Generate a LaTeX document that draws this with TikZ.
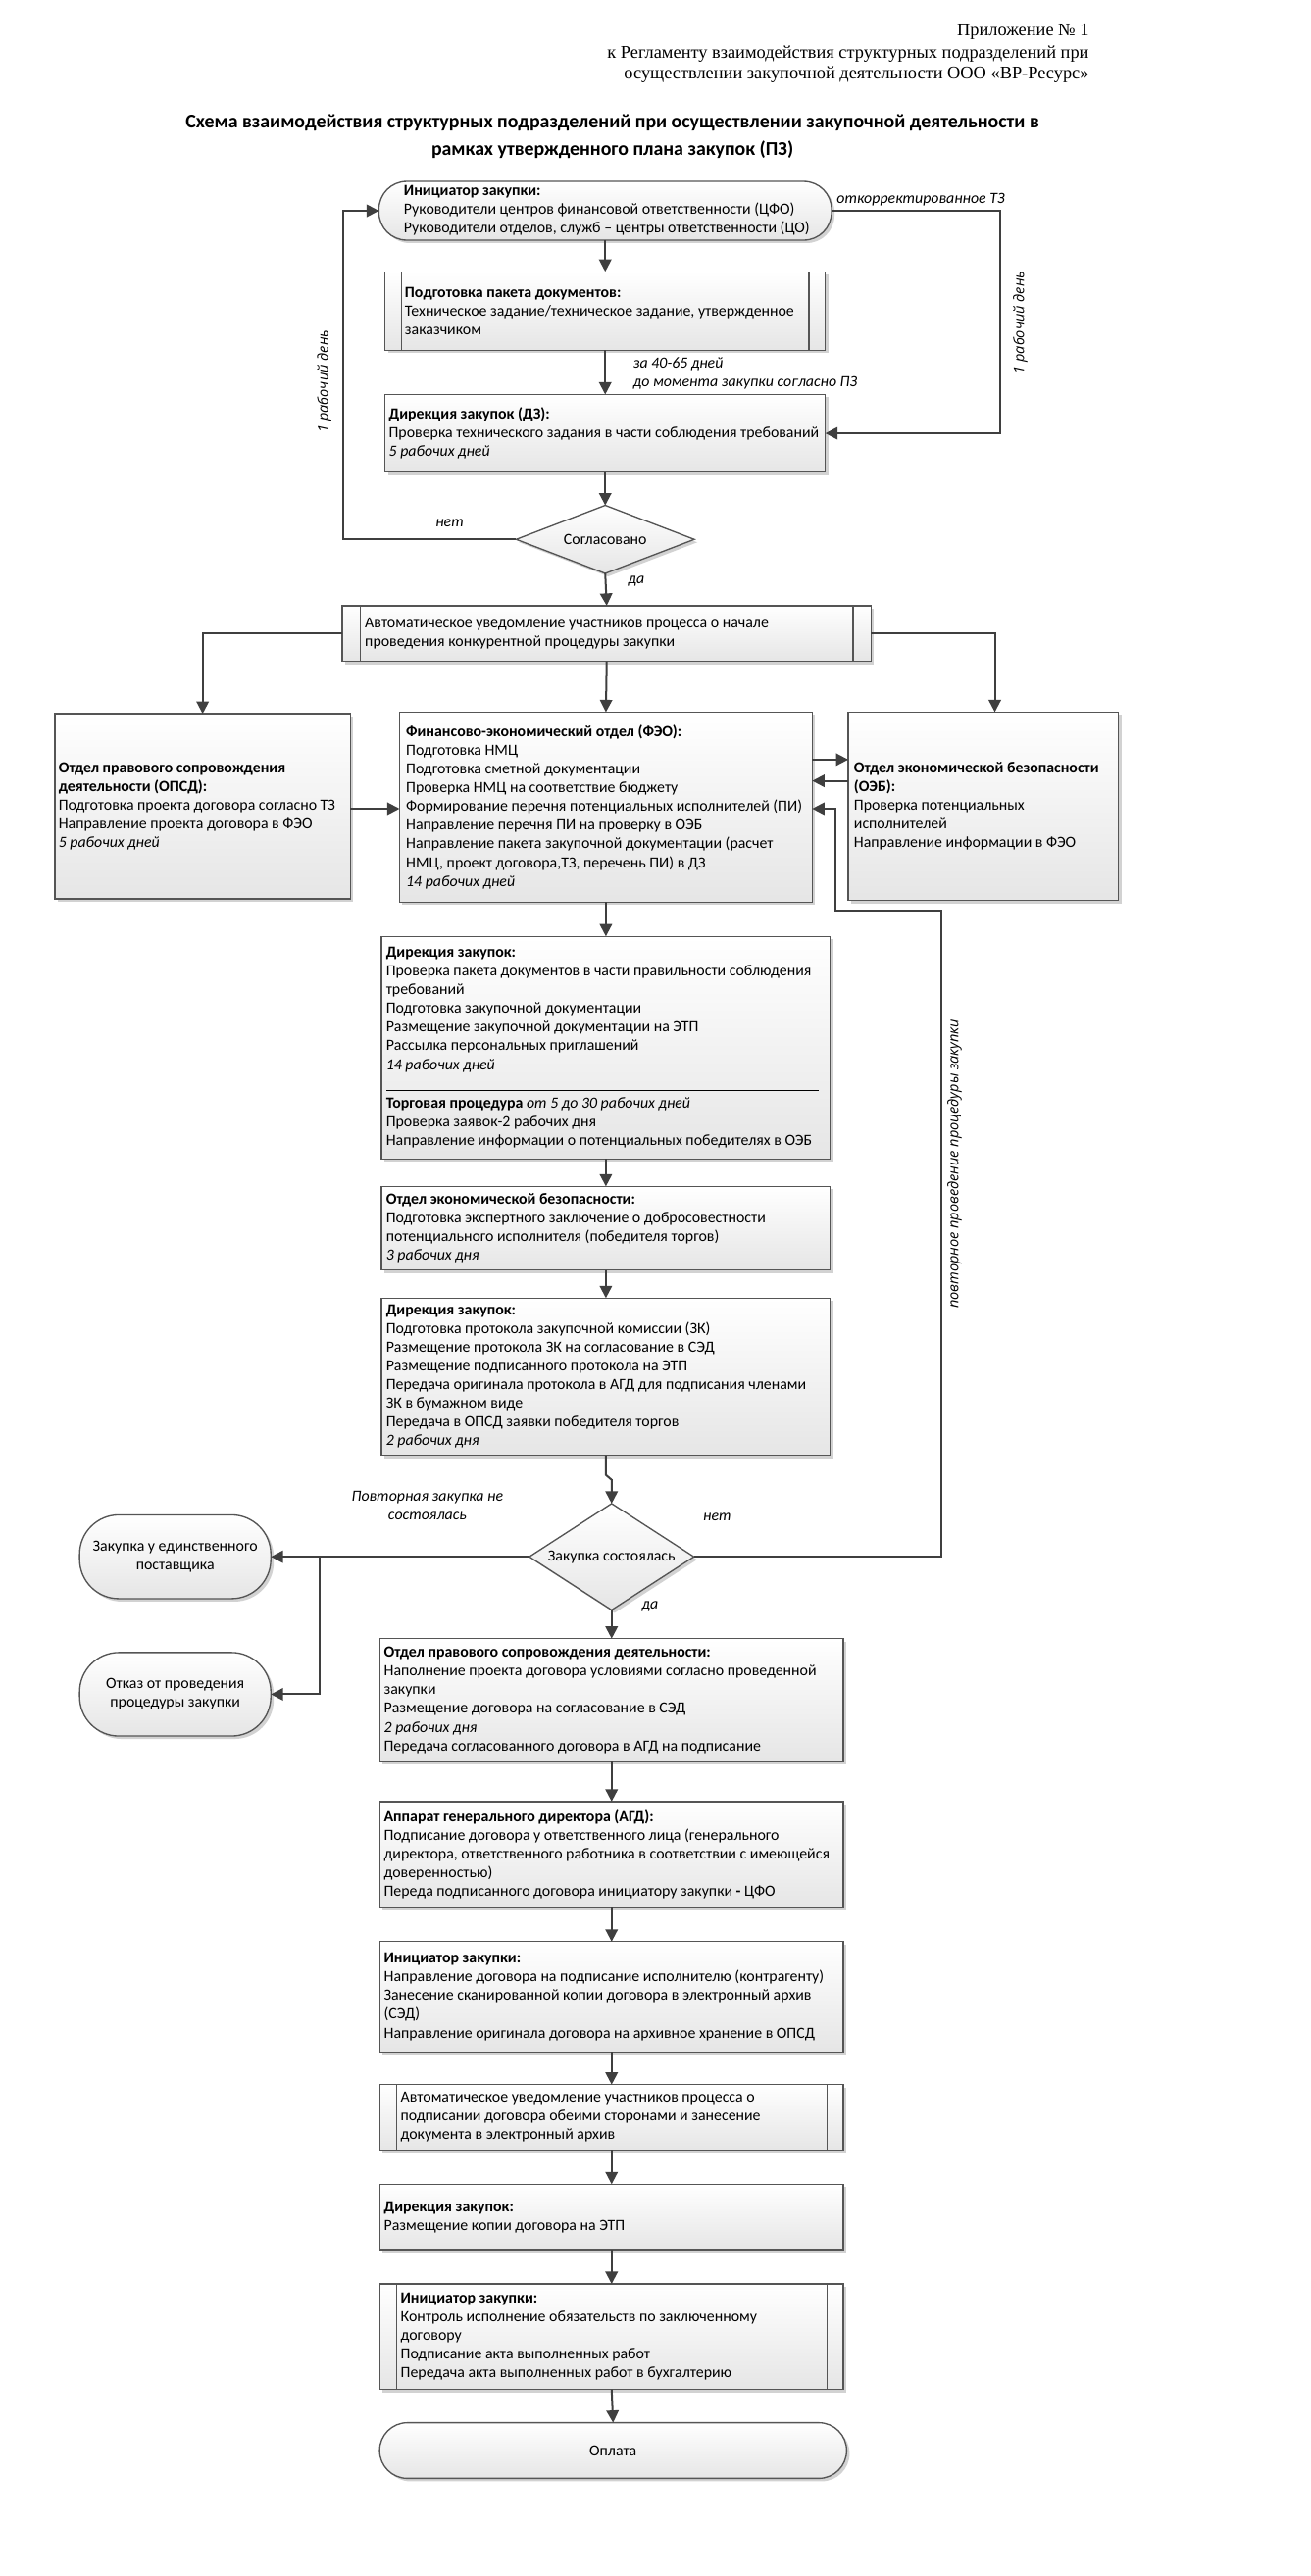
\documentclass[tikz,border=0pt]{standalone}
\usepackage{fontspec}
\setmainfont{Carlito}
\newfontfamily\hdrserif{Liberation Serif}
\newfontfamily\rotsans{Open Sans}
\usetikzlibrary{arrows.meta,shapes.geometric,shadows,calc}

\definecolor{linec}{HTML}{3F3F3F}
\definecolor{boxc}{HTML}{555555}

\newcommand\bodyfont{\fontsize{9.5}{11.4}\selectfont}
\newcommand\labfont{\fontsize{9.5}{11.4}\selectfont\itshape}
\newcommand\rotfont{\rotsans\fontsize{8.7}{10}\selectfont\itshape}
\newcommand\hdrfont{\hdrserif\fontsize{11}{13}\selectfont}
\newcommand\ttlfont{\fontsize{11.9}{14}\selectfont\bfseries}

\newcommand\mypredef[2]{%
  \draw[inl] ([xshift=#2]#1.north west) -- ([xshift=#2]#1.south west);
  \draw[inl] ([xshift=-#2]#1.north east) -- ([xshift=-#2]#1.south east);}

\tikzset{
  every node/.style={inner sep=0pt, outer sep=0pt},
  bx/.style 2 args={rectangle, draw=boxc, line width=0.8pt,
    top color=white, bottom color=black!10,
    drop shadow={shadow xshift=1.8pt, shadow yshift=-1.8pt, fill=black!25, opacity=0.7},
    minimum width=#1, minimum height=#2},
  dia/.style 2 args={diamond, draw=boxc, line width=0.8pt,
    top color=white, bottom color=black!10,
    drop shadow={shadow xshift=1.8pt, shadow yshift=-1.8pt, fill=black!25, opacity=0.7},
    minimum width=#1, minimum height=#2},
  inl/.style={draw=boxc, line width=0.7pt},
  tx/.style={anchor=west, align=left, font=\bodyfont},
  ctx/.style={align=center, font=\bodyfont},
  lab/.style={font=\labfont, align=center},
  arr/.style={draw=linec, line width=1.2pt, -{Triangle[length=7.5pt,width=7.5pt]}},
}

\begin{document}
\begin{tikzpicture}[x=1pt,y=-1pt]
\useasboundingbox (0,0) rectangle (800,1573.65);
\fill[white] (0,0) rectangle (800,1573.65);

% header
\node[anchor=base east, font=\hdrfont] (h1) at (665,22) {Приложение № 1};
\node[anchor=base east, font=\hdrfont] (h2) at (665,35.5) {к Регламенту взаимодействия структурных подразделений при};
\node[anchor=base east, font=\hdrfont] (h3) at (665,48) {осуществлении закупочной деятельности ООО «ВР-Ресурс»};
\node[anchor=base, font=\ttlfont] (t1) at (374,78) {Схема взаимодействия структурных подразделений при осуществлении закупочной деятельности в};
\node[anchor=base, font=\ttlfont] (t2) at (374,95) {рамках утвержденного плана закупок (ПЗ)};

% upper boxes
\node[bx={276.4pt}{35.9pt}, rounded corners=17pt] (init1) at (369.6,128.75) {};
\node[tx] (tinit1) at (246.7,128.75) {\textbf{Инициатор закупки:}\\Руководители центров финансовой ответственности (ЦФО)\\Руководители отделов, служб – центры ответственности (ЦО)};

\node[bx={268.8pt}{48pt}] (prep) at (369.6,190) {};
\mypredef{prep}{10pt}
\node[tx] (tprep) at (247.3,190) {\textbf{Подготовка пакета документов:}\\Техническое задание/техническое задание, утвержденное\\заказчиком};

\node[bx={268.8pt}{47.4pt}] (dz1) at (369.6,264.7) {};
\node[tx] (tdz1) at (237.5,264.7) {\textbf{Дирекция закупок (ДЗ):}\\Проверка технического задания в части соблюдения требований\\\textit{5 рабочих дней}};

\node[dia={108.8pt}{41.6pt}] (agree) at (369.6,329.5) {};
\node[ctx] (tagree) at (369.6,329.5) {Согласовано};

\node[bx={323pt}{34pt}] (auto1) at (370.5,387) {};
\mypredef{auto1}{11pt}
\node[tx] (tauto1) at (222.9,387) {Автоматическое уведомление участников процесса о начале\\проведения конкурентной процедуры закупки};

\node[bx={180.5pt}{113pt}] (opsd) at (123.75,492.5) {};
\node[tx] (topsd) at (35.8,492.5) {\textbf{Отдел правового сопровождения}\\\textbf{деятельности (ОПСД):}\\Подготовка проекта договора согласно ТЗ\\Направление проекта договора в ФЭО\\\textit{5 рабочих дней}};

\node[bx={252pt}{116pt}] (feo) at (370,493) {};
\node[tx] (tfeo) at (248,493) {\textbf{Финансово-экономический отдел (ФЭО):}\\Подготовка НМЦ\\Подготовка сметной документации\\Проверка НМЦ на соответствие бюджету\\Формирование перечня потенциальных исполнителей (ПИ)\\Направление перечня ПИ на проверку в ОЭБ\\Направление пакета закупочной документации (расчет\\НМЦ, проект договора,ТЗ, перечень ПИ) в ДЗ\\\textit{14 рабочих дней}};

\node[bx={165pt}{115pt}] (oeb) at (600.5,492.5) {};
\node[tx] (toeb) at (521.5,492.5) {\textbf{Отдел экономической безопасности}\\\textbf{(ОЭБ):}\\Проверка потенциальных\\исполнителей\\Направление информации в ФЭО};

% middle boxes
\node[bx={274pt}{136pt}] (dz2) at (370,640) {};
\node[tx] (tdz2a) at (235.8,616.8) {\textbf{Дирекция закупок:}\\Проверка пакета документов в части правильности соблюдения\\требований\\Подготовка закупочной документации\\Размещение закупочной документации на ЭТП\\Рассылка персональных приглашений\\\textit{14 рабочих дней}};
\draw[draw=black, line width=0.7pt] (236,666) -- (500,666);
\node[tx] (tdz2b) at (235.8,685.9) {\textbf{Торговая процедура} \textit{от 5 до 30 рабочих дней}\\Проверка заявок-2 рабочих дня\\Направление информации о потенциальных победителях в ОЭБ};

\node[bx={274pt}{51pt}] (oeb2) at (370,750.25) {};
\node[tx] (toeb2) at (235.8,750.25) {\textbf{Отдел экономической безопасности:}\\Подготовка экспертного заключение о добросовестности\\потенциального исполнителя (победителя торгов)\\\textit{3 рабочих дня}};

\node[bx={274pt}{96pt}] (dz3) at (370,841) {};
\node[tx] (tdz3) at (235.8,841) {\textbf{Дирекция закупок:}\\Подготовка протокола закупочной комиссии (ЗК)\\Размещение протокола ЗК на согласование в СЭД\\Размещение подписанного протокола на ЭТП\\Передача оригинала протокола в АГД для подписания членами\\ЗК в бумажном виде\\Передача в ОПСД заявки победителя торгов\\\textit{2 рабочих дня}};

\node[dia={100.5pt}{65pt}] (dia2) at (373.5,951) {};
\node[ctx] (tdia2) at (373.5,951) {Закупка состоялась};

\node[bx={116.8pt}{51.2pt}, rounded corners=24pt] (st1) at (107,951) {};
\node[ctx] (tst1) at (107,951) {Закупка у единственного\\поставщика};
\node[bx={116.8pt}{51pt}, rounded corners=24pt] (st2) at (107,1035) {};
\node[ctx] (tst2) at (107,1035) {Отказ от проведения\\процедуры закупки};

% lower boxes
\node[bx={283pt}{75.3pt}] (opsd2) at (373.5,1038.65) {};
\node[tx] (topsd2) at (234.5,1038.65) {\textbf{Отдел правового сопровождения деятельности:}\\Наполнение проекта договора условиями согласно проведенной\\закупки\\Размещение договора на согласование в СЭД\\\textit{2 рабочих дня}\\Передача согласованного договора в АГД на подписание};

\node[bx={283pt}{64.7pt}] (agd) at (373.5,1132.85) {};
\node[tx] (tagd) at (234.5,1132.85) {\textbf{Аппарат генерального директора (АГД):}\\Подписание договора у ответственного лица (генерального\\директора, ответственного работника в соответствии с имеющейся\\доверенностью)\\Переда подписанного договора инициатору закупки \textbf{-} ЦФО};

\node[bx={283pt}{67.4pt}] (init2) at (373.5,1219.8) {};
\node[tx] (tinit2) at (234.5,1219.8) {\textbf{Инициатор закупки:}\\Направление договора на подписание исполнителю (контрагенту)\\Занесение сканированной копии договора в электронный архив\\(СЭД)\\Направление оригинала договора на архивное хранение в ОПСД};

\node[bx={283pt}{40pt}] (auto2) at (373.5,1293.45) {};
\mypredef{auto2}{10pt}
\node[tx] (tauto2) at (244.7,1293.45) {Автоматическое уведомление участников процесса о\\подписании договора обеими сторонами и занесение\\документа в электронный архив};

\node[bx={283pt}{40pt}] (dz4) at (373.5,1354.3) {};
\node[tx] (tdz4) at (234.5,1354.3) {\textbf{Дирекция закупок:}\\Размещение копии договора на ЭТП};

\node[bx={283pt}{64.5pt}] (init3) at (373.5,1427.45) {};
\mypredef{init3}{10pt}
\node[tx] (tinit3) at (244.7,1427.45) {\textbf{Инициатор закупки:}\\Контроль исполнение обязательств по заключенному\\договору\\Подписание акта выполненных работ\\Передача акта выполненных работ в бухгалтерию};

\node[bx={285.2pt}{34pt}, rounded corners=17pt] (pay) at (374.4,1497) {};
\node[ctx] (tpay) at (374.4,1497) {Оплата};

% connectors
\draw[arr] (init1.south) -- (prep.north);
\draw[arr] (prep.south) -- (dz1.north);
\draw[arr] (dz1.south) -- (agree.north);
\draw[arr] (agree.south) -- (auto1.north);
\draw[arr] (agree.west) -- (209.3,329.5) |- (init1.west);
\draw[arr] (init1.east) -- (611,128.75) |- (dz1.east);
\draw[arr] (auto1.west) -| (opsd.north);
\draw[arr] (auto1.east) -| ([xshift=7pt]oeb.north);
\draw[arr] (auto1.south) -- (feo.north);
\draw[arr] ($(opsd.east)+(0,1.5)$) -- ($(feo.west)+(0,1)$);
\draw[arr] ($(feo.east)+(0,-29)$) -- ($(oeb.west)+(0,-28.5)$);
\draw[arr] ($(oeb.west)+(0,-15.5)$) -- ($(feo.east)+(0,-16)$);
\draw[arr] (feo.south) -- (dz2.north);
\draw[arr] (dz2.south) -- (oeb2.north);
\draw[arr] (oeb2.south) -- (dz3.north);
\draw[arr] (dz3.south) -- ++(0,12) -- ++(3.5,3) -- (dia2.north);
\draw[arr] (dia2.east) -| (575,556) -| (510,494) -- ($(feo.east)+(0,1)$);
\draw[arr] (dia2.west) -- (st1.east);
\draw[arr] (195.5,951) |- (st2.east);
\draw[arr] (dia2.south) -- (opsd2.north);
\draw[arr] (opsd2.south) -- (agd.north);
\draw[arr] (agd.south) -- (init2.north);
\draw[arr] (init2.south) -- (auto2.north);
\draw[arr] (auto2.south) -- (dz4.north);
\draw[arr] (dz4.south) -- (init3.north);
\draw[arr] (init3.south) -- (pay.north);

% labels
\node[lab, anchor=west] (lcorr) at (511,122) {откорректированное ТЗ};
\node[font=\rotfont, rotate=90] (lday1) at (623,197) {1 рабочий день};
\node[font=\rotfont, rotate=90] (lday2) at (198,233) {1 рабочий день};
\node[lab, anchor=west, align=left] (l4065) at (386.8,228) {за 40-65 дней\\до момента закупки согласно ПЗ};
\node[lab] (lno1) at (274.6,319.3) {нет};
\node[lab] (lyes1) at (388.6,355) {да};
\node[font=\rotfont, rotate=90] (lrep) at (583,711) {повторное проведение процедуры закупки};
\node[lab] (lrep2) at (261,920) {Повторная закупка не\\состоялась};
\node[lab] (lno2) at (438,926.8) {нет};
\node[lab] (lyes2) at (397,981.6) {да};
\end{tikzpicture}
\end{document}
